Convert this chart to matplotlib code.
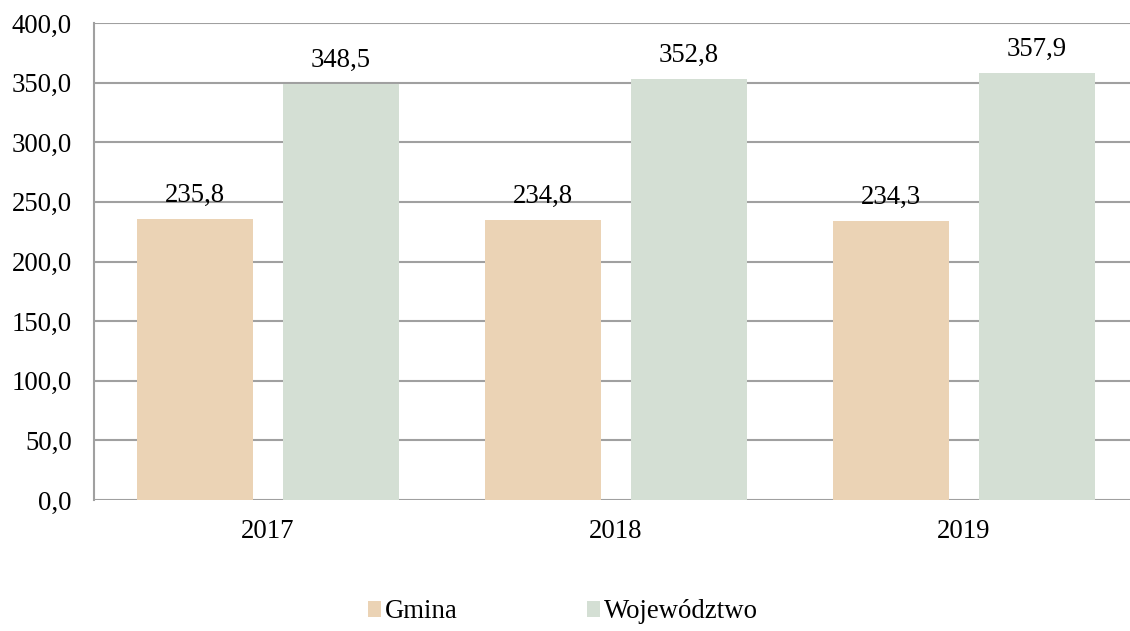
import matplotlib.pyplot as plt
import numpy as np

years = ["2017", "2018", "2019"]
gmina = [235.8, 234.8, 234.3]
wojewodztwo = [348.5, 352.8, 357.9]
yticks = [0, 50, 100, 150, 200, 250, 300, 350, 400]

plt.rcParams['font.family'] = ['Liberation Serif', 'DejaVu Serif']
fs = 19.3

fig = plt.figure(figsize=(11.3, 6.31), dpi=100)
ax = fig.add_axes([94 / 1130, 131 / 631, 1044 / 1130, 477 / 631])

x = np.arange(len(years))
w = 0.333
off = 0.21
b1 = ax.bar(x - off, gmina, w, color='#ebd3b5', label='Gmina', zorder=3)
b2 = ax.bar(x + off, wojewodztwo, w, color='#d4dfd4', label='Województwo', zorder=3)

for bars, vals in ((b1, gmina), (b2, wojewodztwo)):
    for bar, v in zip(bars, vals):
        ax.annotate(f"{v:.1f}".replace('.', ','),
                    (bar.get_x() + bar.get_width() / 2, v),
                    xytext=(0, 8), textcoords='offset points',
                    ha='center', va='bottom', fontsize=fs)

ax.set_xlim(-0.5, 2.5)
ax.set_ylim(0, 400)
ax.set_yticks(yticks)
ax.set_yticklabels([f"{t:.1f}".replace('.', ',') for t in yticks], fontsize=fs)
ax.set_xticks(x)
ax.set_xticklabels(years, fontsize=fs)
ax.tick_params(length=0)
ax.tick_params(axis='x', pad=14)
ax.tick_params(axis='y', pad=16)

ax.grid(axis='y', color='#a0a0a0', linewidth=1.5, zorder=0)
for s in ('top', 'right', 'bottom'):
    ax.spines[s].set_visible(False)
ax.spines['left'].set_color('#a0a0a0')
ax.spines['left'].set_linewidth(1.5)

fig.legend(loc='center', bbox_to_anchor=(563 / 1130, 1 - 612 / 631), ncol=2,
           frameon=False, fontsize=fs, handlelength=0.5, handleheight=0.5,
           handletextpad=0.15, columnspacing=4.8)

fig.savefig('out.png', dpi=100)
